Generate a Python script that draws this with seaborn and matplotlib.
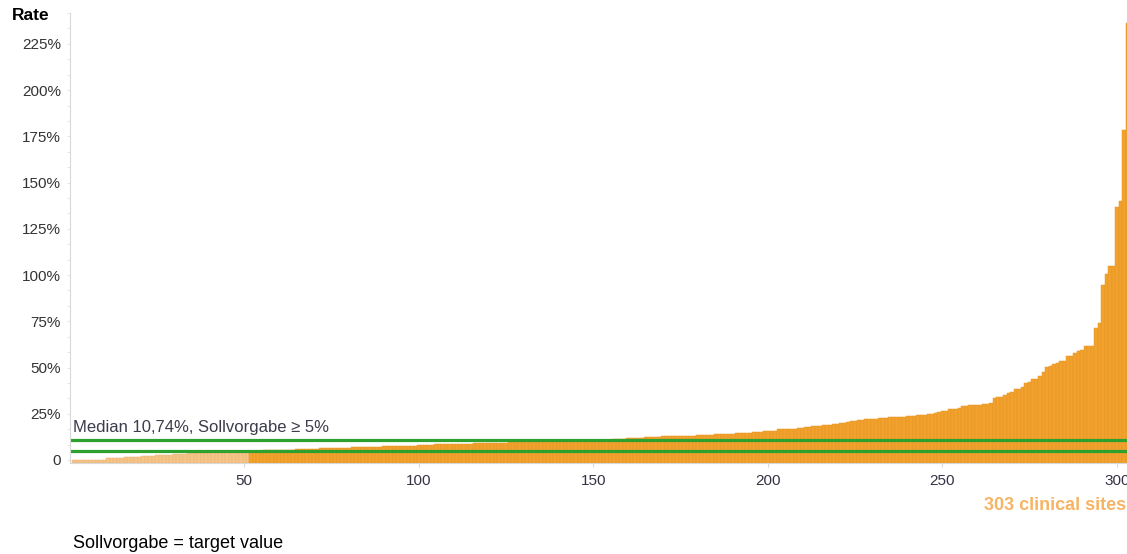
import numpy as np
import pandas as pd
import seaborn as sns
import matplotlib.pyplot as plt
from matplotlib.colors import to_rgb
from matplotlib.ticker import AutoMinorLocator, FuncFormatter

# values, sites sorted by rate (in %)
rates_below_target = [
    0, 0, 0, 0, 0, 0, 0, 0, 0, 0,
    0.9, 1.0, 1.1, 1.2, 1.3, 1.4,
    1.5, 1.6, 1.7, 1.8, 1.9, 2.0, 2.2, 2.3, 2.5,
    2.6, 2.7, 2.8, 2.9, 3.0, 3.1, 3.2, 3.3, 3.5, 3.6,
    3.7, 3.8, 3.9, 4.0, 4.1, 4.1, 4.2, 4.2, 4.2, 4.3, 4.3, 4.3, 4.4, 4.4, 4.5, 4.6,
]
rates_above_target = [
    5.0, 5.0, 5.1, 5.1, 5.2, 5.2, 5.3, 5.3, 5.4, 5.4, 5.5, 5.5, 5.6, 5.7,
    6.0, 6.0, 6.1, 6.1, 6.2, 6.2, 6.3, 6.3, 6.3, 6.4, 6.4, 6.5, 6.5,
    6.6, 6.7, 6.8, 6.9, 6.9, 7.0, 7.0, 7.1, 7.1, 7.2,
    7.2, 7.3, 7.3, 7.4, 7.4, 7.5, 7.5, 7.6, 7.6, 7.7,
    7.8, 7.9, 8.0, 8.1, 8.2, 8.3, 8.4, 8.5, 8.5, 8.6, 8.6, 8.7, 8.7, 8.8,
    8.8, 8.9, 8.9, 9.0, 9.0, 9.1, 9.1, 9.2, 9.2, 9.3, 9.3, 9.4, 9.4, 9.5, 9.5, 9.6,
    9.6, 9.7, 9.8, 9.9, 10.0, 10.1, 10.2, 10.3, 10.3, 10.4, 10.5, 10.5,
    10.6, 10.6, 10.6, 10.7, 10.7, 10.7, 10.7, 10.7, 10.7, 10.74, 10.74, 10.74,
    10.8, 10.9, 11.0, 11.1, 11.2, 11.4, 11.5, 11.7,
    12.0, 12.0, 12.1, 12.1, 12.2, 12.2, 12.3, 12.4, 12.5,
    12.7, 12.7, 12.8, 12.8, 12.9, 12.9, 13.0, 13.1,
    13.2, 13.2, 13.3, 13.4, 13.5, 13.5, 13.6, 13.8, 13.9, 14.0, 14.1,
    14.2, 14.3, 14.4, 14.5, 14.6, 14.7, 14.8, 14.9, 15.0, 15.2,
    15.4, 15.5, 15.6, 15.8,
    16.6, 16.7, 16.8, 16.9, 16.9, 17.0, 17.1, 17.2,
    17.7, 18.0, 18.3, 18.4, 18.5, 18.7,
    19.0, 19.1, 19.3, 19.6, 19.9, 20.1,
    20.7, 21.0, 21.2, 21.5, 21.7, 21.9,
    22.1, 22.2, 22.3, 22.5, 22.6, 22.8, 23.0, 23.1,
    23.3, 23.4, 23.5, 23.6, 23.8, 24.0, 24.2,
    24.3, 24.4, 24.6, 25.0, 25.5, 25.8, 26.3,
    26.6, 27.3, 27.6, 27.7,
    28.3, 29.0, 29.2, 29.5, 29.6, 29.7, 29.9, 30.1, 30.3, 30.6,
    33.5, 33.9, 34.0, 35.2, 36.3, 36.6, 38.2, 38.6, 39.7, 41.5, 41.9,
    43.6, 43.9, 45.4, 47.8, 50.3, 50.7, 52.1, 52.4, 53.4, 53.6,
    56.0, 56.3, 57.7, 58.9, 59.3, 61.6, 61.8, 61.9,
    71.6, 73.9, 94.6, 100.4, 104.8, 105.0,
    137.0, 139.8, 178.6, 236.5,
]
median_rate = 10.74
target_rate = 5
x_ticks = [50, 100, 150, 200, 250, 300]
y_ticks = [0, 25, 50, 75, 100, 125, 150, 175, 200, 225]

rates = rates_below_target + rates_above_target
df = pd.DataFrame({
    'site': np.arange(1, len(rates) + 1),
    'rate': rates,
    'group': ['below'] * len(rates_below_target) + ['above'] * len(rates_above_target),
})

sns.set_style('white')
plt.rcParams['font.family'] = ['Liberation Sans', 'DejaVu Sans']

W, H = 1127, 554
fig = plt.figure(figsize=(W / 100, H / 100), dpi=100)
ax_left, ax_right, ax_top, ax_bottom = 70, 1129, 13, 463.3
ax = fig.add_axes([ax_left / W, 1 - ax_bottom / H,
                   (ax_right - ax_left) / W, (ax_bottom - ax_top) / H])

ymin = -1.8
sns.barplot(data=df, x='site', y='rate', hue='group',
            palette={'below': '#f7c488', 'above': '#f2a22c'}, saturation=1,
            native_scale=True, width=1, dodge=False, legend=False,
            linewidth=0.35, ax=ax)

# bars start at the bottom of the axis like in the original,
# thin separators a shade darker than the fill
for p in ax.patches:
    p.set_y(ymin)
    p.set_height(p.get_height() - ymin)
    r, g, b = to_rgb(p.get_facecolor())
    p.set_edgecolor((r * 0.94, g * 0.92, b * 0.88))

ax.axhline(median_rate, color='#2ea02e', lw=2.3)
ax.axhline(target_rate, color='#2ea02e', lw=2.3)

ax.set_xlim(0.07, 303.5)
ax.set_ylim(ymin, 241.7)
ax.set_xticks(x_ticks)
ax.set_xticklabels([str(t) for t in x_ticks])
ax.set_yticks(y_ticks)
ax.yaxis.set_major_formatter(FuncFormatter(lambda v, _: '0' if v == 0 else f'{v:.0f}%'))
ax.yaxis.set_minor_locator(AutoMinorLocator(3))
ax.set_xlabel('')
ax.set_ylabel('')

for s in ['top', 'right']:
    ax.spines[s].set_visible(False)
for s in ['left', 'bottom']:
    ax.spines[s].set_color('#d9d9d9')
    ax.spines[s].set_linewidth(0.8)

ax.tick_params(axis='y', which='both', left=True, length=2.5, width=0.6,
               color='#e0e0e0', labelsize=11, labelcolor='#333333', pad=4)
ax.tick_params(axis='x', bottom=True, length=3, width=0.8, color='#d9d9d9',
               labelsize=11, labelcolor='#333344', pad=5)

ax.text(0.92, 15.1, 'Median 10,74%, Sollvorgabe ≥ 5%', fontsize=12,
        color='#3c3c4c', va='baseline', ha='left')

fig.text(12 / W, 1 - 16 / H, 'Rate', fontsize=12.5, fontweight='bold',
         color='black', va='center', ha='left')
fig.text(984 / W, 1 - 505 / H, '303 clinical sites', fontsize=13,
         fontweight='bold', color='#f6b464', va='center', ha='left')
fig.text(73 / W, 1 - 543 / H, 'Sollvorgabe = target value', fontsize=13,
         color='black', va='center', ha='left')

fig.savefig('out.png', dpi=100)
